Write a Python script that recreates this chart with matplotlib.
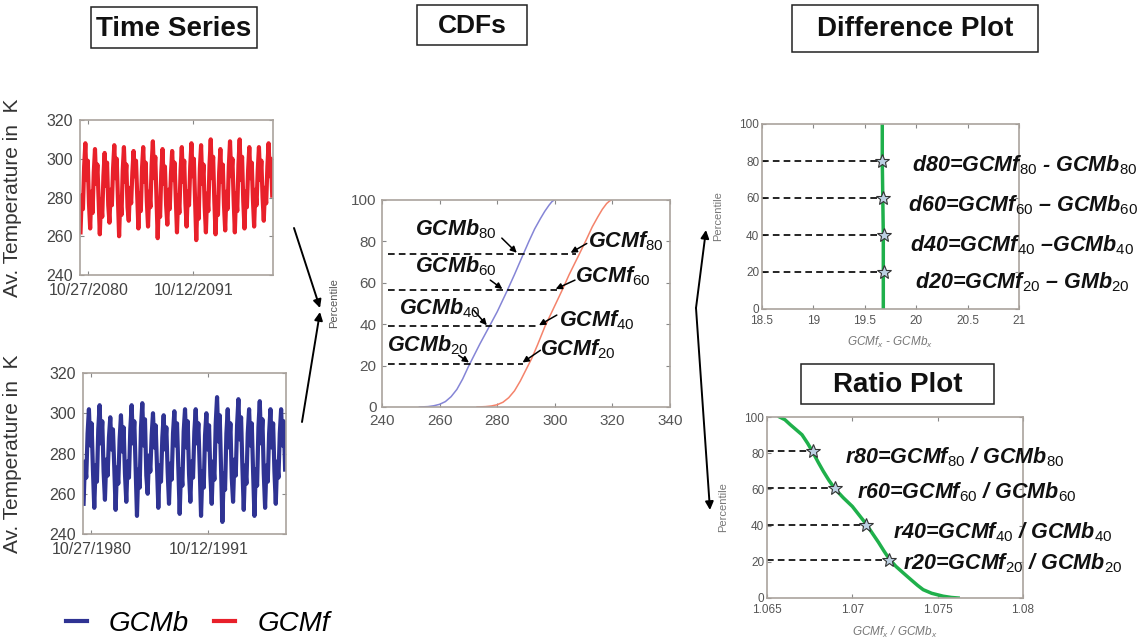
import matplotlib
matplotlib.use("Agg")
import matplotlib.pyplot as plt
import matplotlib.dates as mdates
from matplotlib.lines import Line2D
from matplotlib.patches import Rectangle
import numpy as np
import datetime as dt

plt.rcParams['font.family'] = ['Liberation Sans', 'DejaVu Sans']
plt.rcParams['mathtext.fontset'] = 'custom'
plt.rcParams['mathtext.rm'] = 'Liberation Sans'
plt.rcParams['mathtext.it'] = 'Liberation Sans:italic'
plt.rcParams['mathtext.bf'] = 'Liberation Sans:bold'

# ---- time series (K), 8 readings per year ----
red_temp = [
    262, 281, 274, 296, 308, 289, 299, 277,   # 2080
    264, 283, 272, 293, 305, 287, 297, 279,
    261, 279, 270, 291, 303, 286, 298, 276,
    267, 284, 276, 295, 307, 290, 300, 280,
    260, 280, 271, 294, 306, 288, 297, 275,
    268, 285, 277, 293, 304, 291, 299, 281,
    264, 282, 273, 295, 306, 288, 298, 278,
    265, 283, 275, 297, 309, 290, 301, 279,
    259, 278, 270, 293, 305, 287, 296, 276,
    266, 284, 274, 292, 304, 289, 298, 280,   # 2089
    262, 281, 272, 294, 306, 288, 299, 277,
    265, 283, 276, 296, 308, 291, 300, 279,
    258, 279, 269, 295, 307, 287, 297, 275,
    262, 282, 273, 297, 310, 290, 301, 278,
    261, 280, 271, 293, 305, 288, 297, 276,
    263, 283, 274, 296, 309, 291, 300, 279,
    262, 282, 273, 297, 310, 289, 301, 278,
    264, 283, 275, 294, 306, 290, 298, 279,
    265, 284, 276, 294, 306, 289, 299, 280,
    268, 285, 277, 296, 308, 291, 300, 281,   # 2099
]
blue_temp = [
    255, 276, 268, 290, 302, 284, 295, 272,   # 1980
    253, 274, 266, 292, 304, 285, 296, 271,
    257, 277, 269, 288, 298, 282, 292, 273,
    252, 273, 265, 287, 299, 281, 293, 270,
    256, 276, 268, 292, 304, 285, 296, 272,
    249, 272, 263, 293, 305, 284, 297, 269,
    260, 279, 271, 289, 300, 283, 294, 274,
    253, 274, 266, 288, 299, 282, 293, 271,
    255, 275, 267, 290, 301, 284, 295, 272,
    250, 272, 264, 291, 302, 283, 296, 270,   # 1989
    256, 276, 268, 291, 302, 285, 295, 273,
    249, 271, 263, 289, 300, 282, 294, 269,
    255, 276, 267, 295, 308, 286, 299, 272,
    246, 270, 262, 290, 302, 283, 295, 268,
    256, 277, 269, 294, 307, 287, 298, 273,
    252, 274, 265, 290, 302, 284, 295, 271,
    249, 272, 264, 293, 306, 285, 297, 270,
    253, 274, 266, 290, 302, 283, 295, 271,
    255, 276, 268, 290, 302, 284, 296, 272,   # 1998
]
red_span = (dt.datetime(2080, 1, 1), dt.datetime(2099, 12, 31))
blue_span = (dt.datetime(1980, 2, 1), dt.datetime(1998, 12, 31))
red_ticks = [dt.datetime(2080, 10, 27), dt.datetime(2091, 10, 12)]
blue_ticks = [dt.datetime(1980, 10, 27), dt.datetime(1991, 10, 12)]

# ---- CDFs ----
cdf_b_temp = [253, 256, 258, 260, 262, 264, 266, 268, 270, 272, 274, 277.3, 280, 283.4,
              286, 288.8, 291, 293, 295, 296.5, 298, 299, 299.8]
cdf_b_pct = [0, 0.2, 0.6, 1.3, 2.6, 5, 8.5, 13.5, 19.5, 25, 30.5, 39, 46, 56,
             64, 73, 80, 86, 91, 94.5, 97.5, 99.2, 100]
cdf_f_temp = [273, 276, 278, 280, 282, 284, 286, 288, 290, 292, 294, 296.6, 299, 302.4,
              305, 308.2, 311, 313, 315, 316.5, 318, 319, 319.6]
cdf_f_pct = [0, 0.2, 0.5, 1.1, 2.3, 4.5, 7.8, 12.5, 18, 23.5, 30, 39, 46, 56,
             64, 73, 81, 87, 92, 95.5, 98.3, 99.5, 100]
cdf_levels = [21, 39, 56.5, 74]
cdf_level_end = [289, 294.5, 300.7, 307.5]

# ---- difference plot ----
diff_pct = [0, 20, 40, 60, 80, 100]
diff_val = [19.68, 19.68, 19.68, 19.675, 19.67, 19.67]
diff_star_pct = [80, 60, 40, 20]
diff_star_val = [19.665, 19.675, 19.69, 19.69]

# ---- ratio plot ----
ratio_pct = [100, 98.5, 95.8, 90.2, 85.5, 80.5, 75, 70, 65, 60.2, 55.3, 50.6, 45.8, 41,
             35.8, 30.8, 26, 21.5, 17.5, 13.8, 10, 7, 4.6, 2.6, 1, 0.3, 0]
ratio_val = [1.06574, 1.06605, 1.06636, 1.06705, 1.06738, 1.06769, 1.06800, 1.0683,
             1.06863, 1.06899, 1.06948, 1.0700, 1.07040, 1.07080, 1.07117, 1.07153,
             1.07185, 1.07217, 1.07255, 1.07299, 1.07345, 1.07382, 1.07415, 1.07465,
             1.07532, 1.07580, 1.0762]
ratio_star_pct = [81, 60.5, 40.5, 21]
ratio_star_val = [1.06769, 1.06899, 1.07080, 1.07217]

W, H = 1144, 641
fig = plt.figure(figsize=(W / 100, H / 100), dpi=100)
fig.patch.set_facecolor('white')

FRAME = '#aaa39d'
TICKC = '#444444'
RED = '#e8202a'
BLUE = '#2f3393'
GREEN = '#1fb04b'
DASH = (0, (4, 2.5))


def px_axes(x0, y0, x1, y1):
    return fig.add_axes([x0 / W, 1 - y1 / H, (x1 - x0) / W, (y1 - y0) / H])


def style(ax, size, pad=3, color=TICKC):
    for s in ax.spines.values():
        s.set_color(FRAME)
        s.set_linewidth(1.2)
    ax.tick_params(direction='in', top=True, right=True, length=3,
                   color='#888888', labelcolor=color, labelsize=size, pad=pad)


def ts_panel(box, temps, span, ticks, color):
    ax = px_axes(*box)
    x = np.linspace(mdates.date2num(span[0]), mdates.date2num(span[1]), len(temps))
    ax.plot(x, temps, color=color, lw=3.0, solid_joinstyle='round')
    ax.set_xlim(mdates.date2num(span[0]) - 20, mdates.date2num(span[1]) + 30)
    ax.set_ylim(240, 320)
    ax.set_yticks([240, 260, 280, 300, 320])
    ax.set_xticks([mdates.date2num(t) for t in ticks],
                  [t.strftime('%m/%d/%Y') for t in ticks])
    style(ax, 11.5, pad=5)
    ax.tick_params(axis='x', pad=6)
    ax.set_ylabel('Av. Temperature in  K', fontsize=15, color='#333333')
    ax.yaxis.set_label_coords(-(box[0] - 22) / (box[2] - box[0]), 0.5)
    return ax


ts_panel((80, 120, 273, 275), red_temp, red_span, red_ticks, RED)
ts_panel((83, 373, 286, 534), blue_temp, blue_span, blue_ticks, BLUE)

# CDF panel
ax = px_axes(382, 200, 670, 407)
ax.plot(cdf_b_temp, cdf_b_pct, color='#8585d6', lw=1.1)
ax.plot(cdf_f_temp, cdf_f_pct, color='#f4836b', lw=1.1)
for lev, xe in zip(cdf_levels, cdf_level_end):
    ax.plot([242, xe], [lev, lev], color='black', lw=1.2, ls=DASH)
ax.set_xlim(240, 340)
ax.set_ylim(0, 100)
ax.set_xticks(range(240, 341, 20))
ax.set_yticks(range(0, 101, 20))
style(ax, 11, pad=4, color='#555555')
ax.tick_params(axis='x', pad=5)
ax.set_ylabel('Percentile', fontsize=8, color='#555555')
ax.yaxis.set_label_coords(-0.15, 0.5)
cdf_notes = [
    ('GCMb$_{80}$', (251.5, 86), (281.6, 81.6), (286.8, 74.5)),
    ('GCMf$_{80}$', (311.7, 80), (311.1, 79), (305.5, 74.5)),
    ('GCMb$_{60}$', (251.5, 68), (277.6, 61.3), (281.8, 57)),
    ('GCMf$_{60}$', (307, 63), (307, 61.3), (300.3, 57)),
    ('GCMb$_{40}$', (245.8, 47.6), (271.8, 46.8), (276.4, 39.5)),
    ('GCMf$_{40}$', (301.3, 42), (300.7, 44.4), (294.5, 39.5)),
    ('GCMb$_{20}$', (241.7, 30), (266.6, 25), (270.2, 21.5)),
    ('GCMf$_{20}$', (295, 28), (295, 27.4), (288.8, 21.5)),
]
for label, tpos, a0, a1 in cdf_notes:
    ax.text(tpos[0], tpos[1], label, fontsize=15.5, fontweight='bold', fontstyle='italic',
            ha='left', va='center', color='#111111', zorder=5)
    ax.annotate('', xy=a1, xytext=a0,
                arrowprops=dict(arrowstyle='-|>', color='black', lw=1.1, mutation_scale=9,
                                shrinkA=0, shrinkB=0))

# Difference panel
ax = px_axes(762, 124, 1019, 309)
ax.plot(diff_val, diff_pct, color=GREEN, lw=2.5)
for p, v in zip(diff_star_pct, diff_star_val):
    ax.plot([18.5, v], [p, p], color='black', lw=1.2, ls=DASH)
ax.plot(diff_star_val, diff_star_pct, ls='none', marker='*', ms=10,
        mfc='#bcd0e2', mec='#333333', mew=0.8, zorder=4)
ax.set_xlim(18.5, 21)
ax.set_ylim(0, 100)
ax.set_xticks([18.5, 19, 19.5, 20, 20.5, 21], ['18.5', '19', '19.5', '20', '20.5', '21'])
ax.set_yticks(range(0, 101, 20))
style(ax, 8.5, pad=2, color='#555555')
ax.tick_params(axis='x', pad=4)
ax.set_ylabel('Percentile', fontsize=8, color='#777777')
ax.yaxis.set_label_coords(-0.152, 0.5)
ax.set_xlabel('GCMf$_x$ - GCMb$_x$', fontsize=8.5, color='#777777', fontstyle='italic')
ax.xaxis.set_label_coords(0.5, -0.14)

# Ratio panel
ax = px_axes(767, 417, 1023, 598)
ax.plot(ratio_val, ratio_pct, color=GREEN, lw=2.5)
for p, v in zip(ratio_star_pct, ratio_star_val):
    ax.plot([1.065, v], [p, p], color='black', lw=1.2, ls=DASH)
ax.plot(ratio_star_val, ratio_star_pct, ls='none', marker='*', ms=10,
        mfc='#bcd0e2', mec='#333333', mew=0.8, zorder=4)
ax.set_xlim(1.065, 1.08)
ax.set_ylim(0, 100)
ax.set_xticks([1.065, 1.07, 1.075, 1.08], ['1.065', '1.07', '1.075', '1.08'])
ax.set_yticks(range(0, 101, 20))
style(ax, 8.5, pad=2, color='#555555')
ax.tick_params(axis='x', pad=4)
ax.set_ylabel('Percentile', fontsize=8, color='#777777')
ax.yaxis.set_label_coords(-0.152, 0.5)
ax.set_xlabel('GCMf$_x$ / GCMb$_x$', fontsize=8.5, color='#777777', fontstyle='italic')
ax.xaxis.set_label_coords(0.5, -0.15)

# overlay for boxes, arrows and formulas (pixel coordinates)
ov = fig.add_axes([0, 0, 1, 1], zorder=10)
ov.set_xlim(0, W)
ov.set_ylim(H, 0)
ov.axis('off')
ov.patch.set_visible(False)

titles = [('Time Series', (91, 7, 257, 48), 20),
          ('CDFs', (417, 5, 527, 45), 19),
          ('Difference Plot', (792, 5, 1038, 52), 20),
          ('Ratio Plot', (801, 364, 994, 404), 20)]
for txt, (x0, y0, x1, y1), fs in titles:
    ov.add_patch(Rectangle((x0, y0), x1 - x0, y1 - y0, fill=True, fc='white',
                           ec='#222222', lw=1.1))
    ov.text((x0 + x1) / 2, (y0 + y1) / 2 + 1, txt, fontsize=fs, fontweight='bold',
            ha='center', va='center', color='#111111')

arrows = [((294, 228), (320, 308)), ((302, 422), (320, 312)),
          ((696, 308), (706, 230)), ((696, 308), (710, 510))]
for a0, a1 in arrows:
    ov.annotate('', xy=a1, xytext=a0,
                arrowprops=dict(arrowstyle='-|>', color='black', lw=1.4, mutation_scale=12,
                                shrinkA=0, shrinkB=0))

formulas = [
    ('d80=GCMf$_{80}$ - GCMb$_{80}$', 912, 165),
    ('d60=GCMf$_{60}$ \u2013 GCMb$_{60}$', 908, 205),
    ('d40=GCMf$_{40}$ \u2013GCMb$_{40}$', 910, 245),
    ('d20=GCMf$_{20}$ \u2013 GMb$_{20}$', 915, 282),
    ('r80=GCMf$_{80}$ / GCMb$_{80}$', 845, 457),
    ('r60=GCMf$_{60}$ / GCMb$_{60}$', 857, 492),
    ('r40=GCMf$_{40}$ / GCMb$_{40}$', 893, 532),
    ('r20=GCMf$_{20}$ / GCMb$_{20}$', 903, 563),
]
for txt, x, y in formulas:
    ov.text(x, y, txt, fontsize=15.5, fontweight='bold', fontstyle='italic',
            ha='left', va='center', color='#111111')

handles = [Line2D([], [], color=BLUE, lw=3), Line2D([], [], color=RED, lw=3)]
fig.legend(handles, ['GCMb', 'GCMf'], loc='center', bbox_to_anchor=(0.173, 0.027),
           ncol=2, frameon=False, prop={'size': 20, 'style': 'italic'},
           handlelength=0.75, handletextpad=0.8, columnspacing=0.9)

fig.savefig('out.png', dpi=100, facecolor='white')
